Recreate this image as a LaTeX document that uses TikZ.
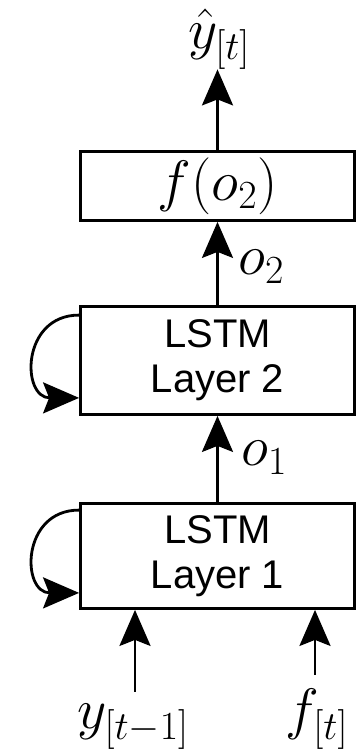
\RequirePackage{fix-cm}
\documentclass[tikz,border=0pt]{standalone}
\usepackage{fontspec}
\setsansfont{Liberation Sans}
\usetikzlibrary{arrows.meta}
\begin{document}
\begin{tikzpicture}[x=1pt,y=1pt,
  box/.style={draw, line width=2.8pt, minimum width=274pt, inner sep=0pt},
  arr/.style={line width=2.8pt, -{Stealth[length=36pt,width=31pt,inset=6pt]}},
  lstm/.style={box, font=\sffamily\fontsize{40}{45}\selectfont, align=center},
  mlab/.style={font=\fontsize{57}{60}\selectfont, inner sep=0pt}]
\useasboundingbox (0,0) rectangle (359,751);
% boxes
\node[box, mlab, minimum height=69pt] (F) at (217.5,565) {$f(o_2)$};
\node[lstm, minimum height=108pt] (L2) at (217.5,390.5) {LSTM\\Layer 2};
\node[lstm, minimum height=105pt] (L1) at (217.5,195) {LSTM\\Layer 1};
% labels
\node[mlab, anchor=base] (yhat) at (219,702) {$\hat{y}_{[t]}$};
\node[mlab, anchor=base west] (o2) at (238,476) {$o_2$};
\node[mlab, anchor=base west] (o1) at (241,285) {$o_1$};
\node[mlab, anchor=base] (ylab) at (133,22) {$y_{[t-1]}$};
\node[mlab, anchor=base] (flab) at (317,22) {$f_{[t]}$};
\coordinate (yin) at (135,59);
\coordinate (fin) at (315,76);
% connectors
\draw[arr] (F.north) -- (F.north |- yhat.south);
\draw[arr] (L2.north) -- (F.south);
\draw[arr] (L1.north) -- (L2.south);
\draw[arr] (yin) -- (yin |- L1.south);
\draw[arr] (fin) -- (fin |- L1.south);
% recurrent loops
\draw[arr] ([yshift=-10pt]L2.north west) .. controls +(-58,0) and +(-58,0) .. ([yshift=18pt]L2.south west);
\draw[arr] ([yshift=-8pt]L1.north west) .. controls +(-58,0) and +(-58,0) .. ([yshift=17pt]L1.south west);
\end{tikzpicture}
\end{document}
